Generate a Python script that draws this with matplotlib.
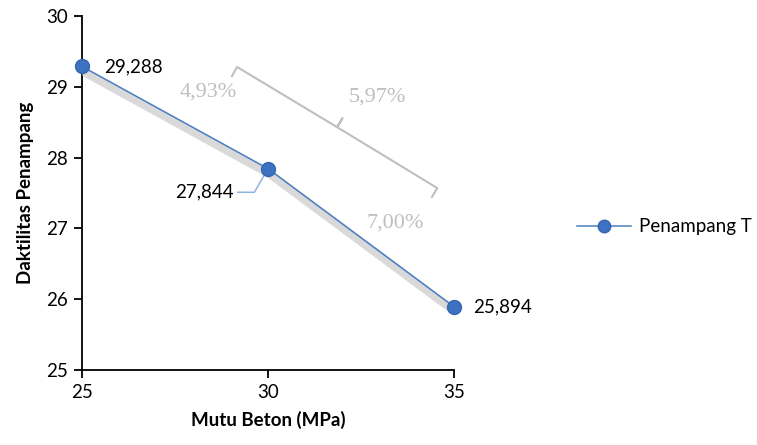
import matplotlib
matplotlib.use("Agg")
import matplotlib.pyplot as plt
import matplotlib.patheffects as pe

# ============================================================
# DATA
# ============================================================
mutu_beton = [25, 30, 35]
daktilitas = [29.288, 27.844, 25.894]
labels = ["29,288", "27,844", "25,894"]
series_name = "Penampang T"
persen = ["4,93%", "5,97%", "7,00%"]

x_ticks = [25, 30, 35]
y_ticks = [25, 26, 27, 28, 29, 30]

LINE_COLOR = "#4A7EC4"
MARKER_COLOR = "#3D72C2"
NOTE_COLOR = "#BFBFBF"
SANS = ["Lato", "DejaVu Sans"]
SERIF = ["Liberation Serif", "DejaVu Serif"]

# ============================================================
# FIGURE
# ============================================================
fig = plt.figure(figsize=(7.57, 4.45), dpi=100)
ax = fig.add_axes([0.1083, 0.1685, 0.4914, 0.7955])

# line with soft shadow underneath
ax.plot(mutu_beton, daktilitas, color=LINE_COLOR, linewidth=1.1, zorder=3,
        path_effects=[pe.SimpleLineShadow(offset=(1.5, -4), shadow_color="#B4B4B4",
                                          alpha=0.5, linewidth=6),
                      pe.Normal()])
ax.plot(mutu_beton, daktilitas, linestyle="none", marker="o", markersize=10,
        markerfacecolor=MARKER_COLOR, markeredgecolor="#3566B0", zorder=4,
        clip_on=False)

ax.set_xlim(25, 35)
ax.set_ylim(25, 30)
ax.set_xticks(x_ticks)
ax.set_yticks(y_ticks)
ax.spines["top"].set_visible(False)
ax.spines["right"].set_visible(False)
ax.spines["left"].set_linewidth(1.3)
ax.spines["bottom"].set_linewidth(1.3)
ax.tick_params(direction="out", length=6, width=1.3, labelsize=13.5, pad=4)
for lab in ax.get_xticklabels() + ax.get_yticklabels():
    lab.set_family(SANS)

ax.set_xlabel("Mutu Beton (MPa)", fontsize=13.5, fontweight="bold", family=SANS, labelpad=7)
ax.set_ylabel("Daktilitas Penampang", fontsize=13.5, fontweight="bold", family=SANS, labelpad=9)

# data labels
ax.annotate(labels[0], (mutu_beton[0], daktilitas[0]), xytext=(16, 0),
            textcoords="offset points", ha="left", va="center", fontsize=13.5, family=SANS)
ax.annotate(labels[1], (mutu_beton[1], daktilitas[1]), xytext=(-25, -17),
            textcoords="offset points", ha="right", va="center", fontsize=13.5, family=SANS,
            arrowprops=dict(arrowstyle="-", color="#8EB4E3", lw=1.1, shrinkA=1, shrinkB=1,
                            connectionstyle="angle,angleA=0,angleB=60,rad=0"))
ax.annotate(labels[2], (mutu_beton[2], daktilitas[2]), xytext=(14, 0),
            textcoords="offset points", ha="left", va="center", fontsize=13.5, family=SANS)

# bracket with percentages (axes fraction coordinates)
bx = [0.403, 0.417, 0.686, 0.700, 0.686, 0.955, 0.941]
by = [0.830, 0.856, 0.686, 0.711, 0.686, 0.514, 0.489]
ax.plot(bx, by, transform=ax.transAxes, color=NOTE_COLOR, linewidth=1.5,
        clip_on=False, zorder=2)

ax.text(0.339, 0.785, persen[0], transform=ax.transAxes, ha="center", va="center",
        fontsize=16, color=NOTE_COLOR, family=SERIF)
ax.text(0.793, 0.770, persen[1], transform=ax.transAxes, ha="center", va="center",
        fontsize=16, color=NOTE_COLOR, family=SERIF)
ax.text(0.841, 0.415, persen[2], transform=ax.transAxes, ha="center", va="center",
        fontsize=16, color=NOTE_COLOR, family=SERIF)

# legend
handle = plt.Line2D([], [], color=LINE_COLOR, linewidth=1.1, marker="o", markersize=9,
                    markerfacecolor=MARKER_COLOR, markeredgecolor="#3566B0")
fig.legend([handle], [series_name], loc="center left", bbox_to_anchor=(0.740, 0.49),
           frameon=False, handlelength=2.9, handletextpad=0.4,
           prop={"family": SANS, "size": 13.5})

fig.savefig("out.png", dpi=100)
